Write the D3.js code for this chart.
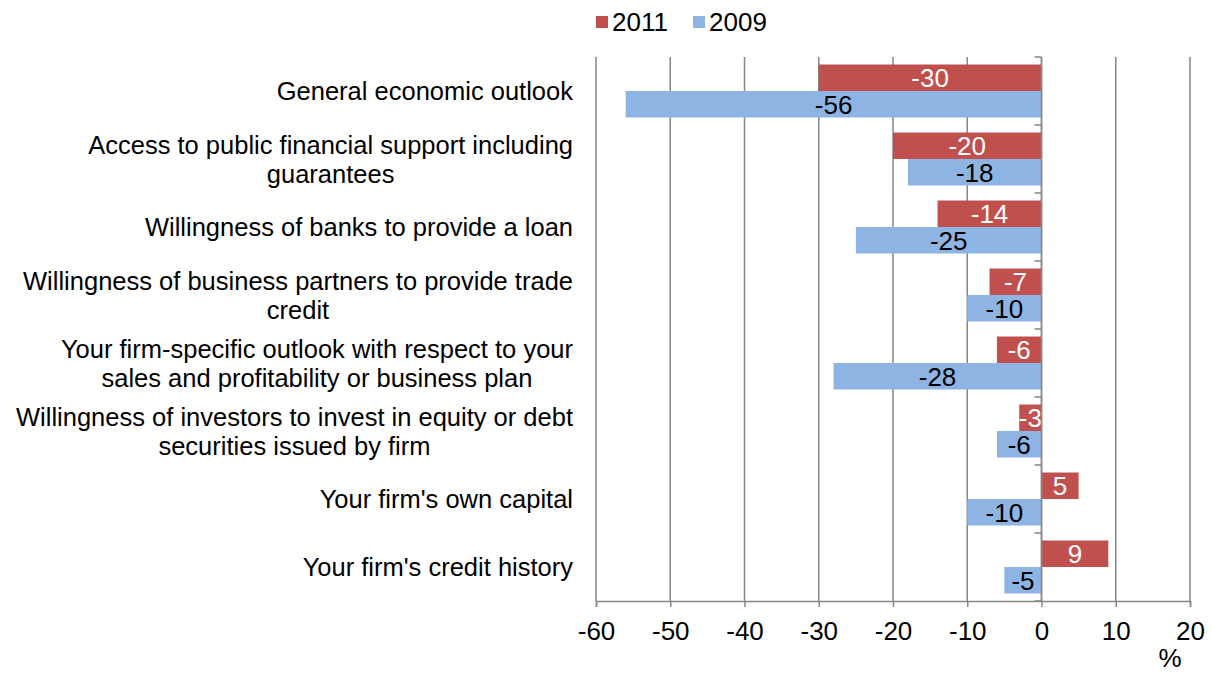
<!DOCTYPE html>
<html>
<head>
<meta charset="utf-8">
<script src="https://cdn.jsdelivr.net/npm/d3@7"></script>
<style>
  html, body { margin: 0; padding: 0; background: #fff; }
  svg { display: block; font-family: "Liberation Sans", Arial, Helvetica, sans-serif; }
</style>
</head>
<body>
<svg id="chart" width="1212" height="673"></svg>
<script>
// Factors affecting access to finance: net balance, % of firms
const categories = [
  ["General economic outlook"],
  ["Access to public financial support including", "guarantees"],
  ["Willingness of banks to provide a loan"],
  ["Willingness of business partners to provide trade", "credit"],
  ["Your firm-specific outlook with respect to your", "sales and profitability or business plan"],
  ["Willingness of investors to invest in equity or debt", "securities issued by firm"],
  ["Your firm's own capital"],
  ["Your firm's credit history"]
];
const values2011 = [-30, -20, -14, -7, -6, -3, 5, 9];
const values2009 = [-56, -18, -25, -10, -28, -6, -10, -5];
const seriesNames = ["2011", "2009"];
const seriesColors = ["#C0504D", "#8EB4E3"];
const labelColors = ["#FFFFFF", "#000000"];
const xTicks = [-60, -50, -40, -30, -20, -10, 0, 10, 20];

const svg = d3.select("#chart");
const margin = { left: 596, right: 22, top: 57, bottom: 72 };
const W = 1212, H = 673;
const plotBottom = H - margin.bottom;
const fontSize = 26;
const catFontSize = 25.5;

const x = d3.scaleLinear().domain([-60, 20]).range([margin.left, W - margin.right]);
const y = d3.scaleBand().domain(d3.range(categories.length)).range([margin.top, plotBottom]).paddingInner(0).paddingOuter(0);
const inner = d3.scaleBand().domain([0, 1]).range([7.5, y.bandwidth() - 7.5]);

const gridColor = "#868686";

// vertical gridlines
svg.append("g").selectAll("line").data(xTicks).join("line")
  .attr("x1", d => x(d)).attr("x2", d => x(d))
  .attr("y1", margin.top).attr("y2", plotBottom)
  .attr("stroke", gridColor).attr("stroke-width", 1.5);

// bars
const series = [values2011, values2009];
series.forEach((vals, s) => {
  const g = svg.append("g");
  g.selectAll("rect").data(vals).join("rect")
    .attr("x", d => x(Math.min(0, d)))
    .attr("width", d => Math.abs(x(d) - x(0)))
    .attr("y", (d, i) => y(i) + inner(s))
    .attr("height", inner.bandwidth())
    .attr("fill", seriesColors[s]);
  g.selectAll("text").data(vals).join("text")
    .attr("x", d => (x(d) + x(0)) / 2)
    .attr("y", (d, i) => y(i) + inner(s) + inner.bandwidth() / 2)
    .attr("dy", "0.36em")
    .attr("text-anchor", "middle")
    .attr("font-size", fontSize)
    .attr("fill", labelColors[s])
    .text(d => d);
});

// x axis
const xAxis = d3.axisBottom(x).tickValues(xTicks).tickSize(6).tickPadding(15).tickFormat(d3.format("d"));
const gx = svg.append("g").attr("transform", `translate(0,${plotBottom})`).call(xAxis);
gx.select(".domain").attr("stroke", gridColor).attr("stroke-width", 1.5);
gx.selectAll(".tick line").attr("stroke", gridColor).attr("stroke-width", 1.5);
gx.selectAll(".tick text").attr("font-size", fontSize).attr("fill", "#000")
  .attr("font-family", "Liberation Sans, Arial, sans-serif")
  .text(d => d < 0 ? "-" + Math.abs(d) : d);

// y axis at zero with boundary ticks
const yAxisG = svg.append("g");
yAxisG.append("line")
  .attr("x1", x(0)).attr("x2", x(0)).attr("y1", margin.top).attr("y2", plotBottom)
  .attr("stroke", gridColor).attr("stroke-width", 1.5);
yAxisG.selectAll("line.tk").data(d3.range(categories.length + 1)).join("line")
  .attr("class", "tk")
  .attr("x1", x(0) - 7).attr("x2", x(0))
  .attr("y1", i => margin.top + i * y.step()).attr("y2", i => margin.top + i * y.step())
  .attr("stroke", gridColor).attr("stroke-width", 1.5);

// category labels
const lineH = 29;
const labelRight = 573;
const lg = svg.append("g").attr("font-size", catFontSize).attr("fill", "#000");
categories.forEach((lines, i) => {
  const cy = y(i) + y.bandwidth() / 2;
  const t = lg.append("text");
  const tspans = lines.map((ln, k) => t.append("tspan").text(ln)
    .attr("y", cy + (k - (lines.length - 1) / 2) * lineH).attr("dy", "0.36em"));
  // centre each line in a block whose right edge is fixed
  const widths = tspans.map(ts => ts.node().getComputedTextLength());
  const maxW = d3.max(widths);
  const cx = labelRight - maxW / 2;
  tspans.forEach(ts => ts.attr("x", cx).attr("text-anchor", "middle"));
});

// unit label
svg.append("text").attr("x", 1170).attr("y", 667)
  .attr("text-anchor", "middle").attr("font-size", fontSize).text("%");

// legend
const legend = svg.append("g").attr("font-size", fontSize);
const legendX = [596, 693];
seriesNames.forEach((name, s) => {
  legend.append("rect").attr("x", legendX[s]).attr("y", 16).attr("width", 12).attr("height", 12)
    .attr("fill", seriesColors[s]);
  legend.append("text").attr("x", legendX[s] + 16).attr("y", 22).attr("dy", "0.36em").text(name);
});
</script>
</body>
</html>
